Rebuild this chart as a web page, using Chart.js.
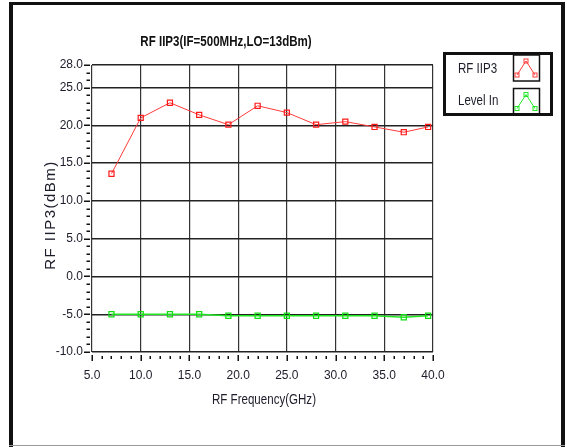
<!DOCTYPE html>
<html>
<head>
    <title>RF IIP3</title>
    <style>
        body {
            margin: 0;
            padding: 0;
            background-color: #fff;
        }
        #chart-container {
            width: 567px;
            height: 447px;
        }
    </style>
</head>
<body>
    <div id="chart-container">
        <canvas id="iip3-chart" width="567" height="447"></canvas>
    </div>

    <script src="https://cdn.jsdelivr.net/npm/chart.js"></script>
    <script>
        // chart data
        const freqGHz = [7, 10, 13, 16, 19, 22, 25, 28, 31, 34, 37, 39.5];
        const rfIIP3 = [13.6, 21.0, 23.0, 21.4, 20.1, 22.6, 21.7, 20.1, 20.5, 19.8, 19.1, 19.8];
        const levelIn = [-5.0, -5.0, -5.0, -5.0, -5.2, -5.2, -5.2, -5.2, -5.2, -5.2, -5.4, -5.2];
        const seriesNames = ['RF IIP3', 'Level In'];
        const xTickValues = [5, 10, 15, 20, 25, 30, 35, 40];
        const yTickValues = [-10, -5, 0, 5, 10, 15, 20, 25, 28];
        const chartTitle = 'RF IIP3(IF=500MHz,LO=13dBm)';
        const xTitle = 'RF Frequency(GHz)';
        const yTitle = 'RF IIP3(dBm)';

        const sans = "'Liberation Sans', Arial, sans-serif";
        const textColor = '#1c1c2a';
        const seriesColors = ['#ff3b3b', '#22e622'];

        // no narrow font installed, so squeeze text horizontally
        function narrowText(ctx, text, x, y, align) {
            ctx.save();
            ctx.translate(x, y);
            ctx.scale(0.77, 1);
            ctx.textAlign = align;
            ctx.fillText(text, 0, 0);
            ctx.restore();
        }

        // frame, ticks, titles and the boxed legend
        const decorPlugin = {
            id: 'decor',
            beforeDraw(chart) {
                const ctx = chart.ctx;
                ctx.save();
                ctx.fillStyle = '#fff';
                ctx.fillRect(0, 0, chart.width, chart.height);
                ctx.fillStyle = '#111';
                ctx.fillRect(9, 2, 4, 445);
                ctx.fillRect(9, 2, 556, 3);
                ctx.fillRect(561, 2, 4, 445);
                ctx.fillStyle = '#999';
                ctx.fillRect(9, 445, 556, 1);
                ctx.restore();
            },
            afterDraw(chart) {
                const ctx = chart.ctx;
                const xs = chart.scales.x;
                const ys = chart.scales.y;
                const area = chart.chartArea;
                ctx.save();
                ctx.strokeStyle = '#111';

                // y ticks, major and minor
                ctx.lineWidth = 1.5;
                for (let v = -10; v <= 28; v++) {
                    const py = Math.round(ys.getPixelForValue(v)) + 0.25;
                    const major = yTickValues.includes(v);
                    ctx.beginPath();
                    ctx.moveTo(major ? 84 : 86.5, py);
                    ctx.lineTo(90, py);
                    ctx.stroke();
                }
                // x ticks, major and minor
                for (let v = 5; v <= 40; v++) {
                    const px = Math.round(xs.getPixelForValue(v)) + 0.25;
                    const major = xTickValues.includes(v);
                    ctx.beginPath();
                    ctx.moveTo(px, area.bottom + (major ? 3 : 4));
                    ctx.lineTo(px, area.bottom + (major ? 9 : 7));
                    ctx.stroke();
                }

                // titles
                ctx.textBaseline = 'alphabetic';
                ctx.fillStyle = '#111';
                ctx.font = 'bold 15px ' + sans;
                narrowText(ctx, chartTitle, 226, 46, 'center');
                ctx.fillStyle = textColor;
                ctx.font = '15px ' + sans;
                narrowText(ctx, xTitle, 264, 404, 'center');

                ctx.save();
                ctx.translate(55, 215);
                ctx.rotate(-Math.PI / 2);
                ctx.textAlign = 'center';
                ctx.font = '15px ' + sans;
                ctx.letterSpacing = '1.5px';
                ctx.fillText(yTitle, 0, 0);
                ctx.restore();

                // legend box
                ctx.strokeStyle = '#111';
                ctx.lineWidth = 3;
                ctx.strokeRect(444.5, 53.5, 107, 61);
                ctx.font = '15px ' + sans;
                ctx.fillStyle = textColor;
                const rows = [{ top: 55, base: 73 }, { top: 88.5, base: 105 }];
                chart.data.datasets.forEach((ds, i) => {
                    const r = rows[i];
                    narrowText(ctx, ds.label, 458, r.base, 'left');
                    ctx.strokeStyle = '#111';
                    ctx.lineWidth = 1.5;
                    ctx.strokeRect(513.5, r.top, 26, 26);
                    const pts = [[517, r.top + 20], [526, r.top + 6], [535, r.top + 20]];
                    ctx.strokeStyle = ds.borderColor;
                    ctx.lineWidth = 1;
                    ctx.beginPath();
                    pts.forEach((p, k) => (k ? ctx.lineTo(p[0], p[1]) : ctx.moveTo(p[0], p[1])));
                    ctx.stroke();
                    pts.forEach(p => ctx.strokeRect(p[0] - 2, p[1] - 2, 4, 4));
                });
                ctx.restore();
            }
        };

        const ctx = document.getElementById('iip3-chart').getContext('2d');
        const chart = new Chart(ctx, {
            type: 'line',
            data: {
                datasets: [
                    {
                        label: seriesNames[0],
                        data: freqGHz.map((x, i) => ({ x: x, y: rfIIP3[i] })),
                        borderColor: seriesColors[0],
                        borderWidth: 1,
                        pointStyle: 'rect',
                        pointRadius: 3.6,
                        pointBorderWidth: 1.2,
                        pointBorderColor: '#ff1a1a',
                        pointBackgroundColor: 'rgba(255,255,255,0)',
                        tension: 0
                    },
                    {
                        label: seriesNames[1],
                        data: freqGHz.map((x, i) => ({ x: x, y: levelIn[i] })),
                        borderColor: seriesColors[1],
                        borderWidth: 1.5,
                        pointStyle: 'rect',
                        pointRadius: 3.6,
                        pointBorderWidth: 1.2,
                        pointBorderColor: '#11dd11',
                        pointBackgroundColor: 'rgba(255,255,255,0)',
                        tension: 0
                    }
                ]
            },
            options: {
                responsive: false,
                animation: false,
                layout: { padding: { top: 65, right: 134, left: 0, bottom: 0 } },
                plugins: {
                    legend: { display: false },
                    tooltip: { enabled: false }
                },
                scales: {
                    x: {
                        type: 'linear',
                        min: 5,
                        max: 40,
                        afterBuildTicks(s) { s.ticks = xTickValues.map(v => ({ value: v })); },
                        afterFit(s) { s.height = 95; },
                        ticks: {
                            callback: v => v.toFixed(1),
                            font: { family: sans, size: 12 },
                            color: textColor,
                            padding: 16,
                            maxRotation: 0,
                            autoSkip: false
                        },
                        grid: { color: '#333', lineWidth: 1.2, drawTicks: false },
                        border: { display: false }
                    },
                    y: {
                        type: 'linear',
                        min: -10,
                        max: 28,
                        afterBuildTicks(s) { s.ticks = yTickValues.map(v => ({ value: v })); },
                        afterFit(s) { s.width = 92; },
                        ticks: {
                            callback: v => v.toFixed(1),
                            font: { family: sans, size: 12 },
                            color: textColor,
                            padding: 9,
                            autoSkip: false
                        },
                        grid: { color: '#222', lineWidth: 1.4, drawTicks: false },
                        border: { display: false }
                    }
                }
            },
            plugins: [decorPlugin]
        });
    </script>
</body>
</html>
